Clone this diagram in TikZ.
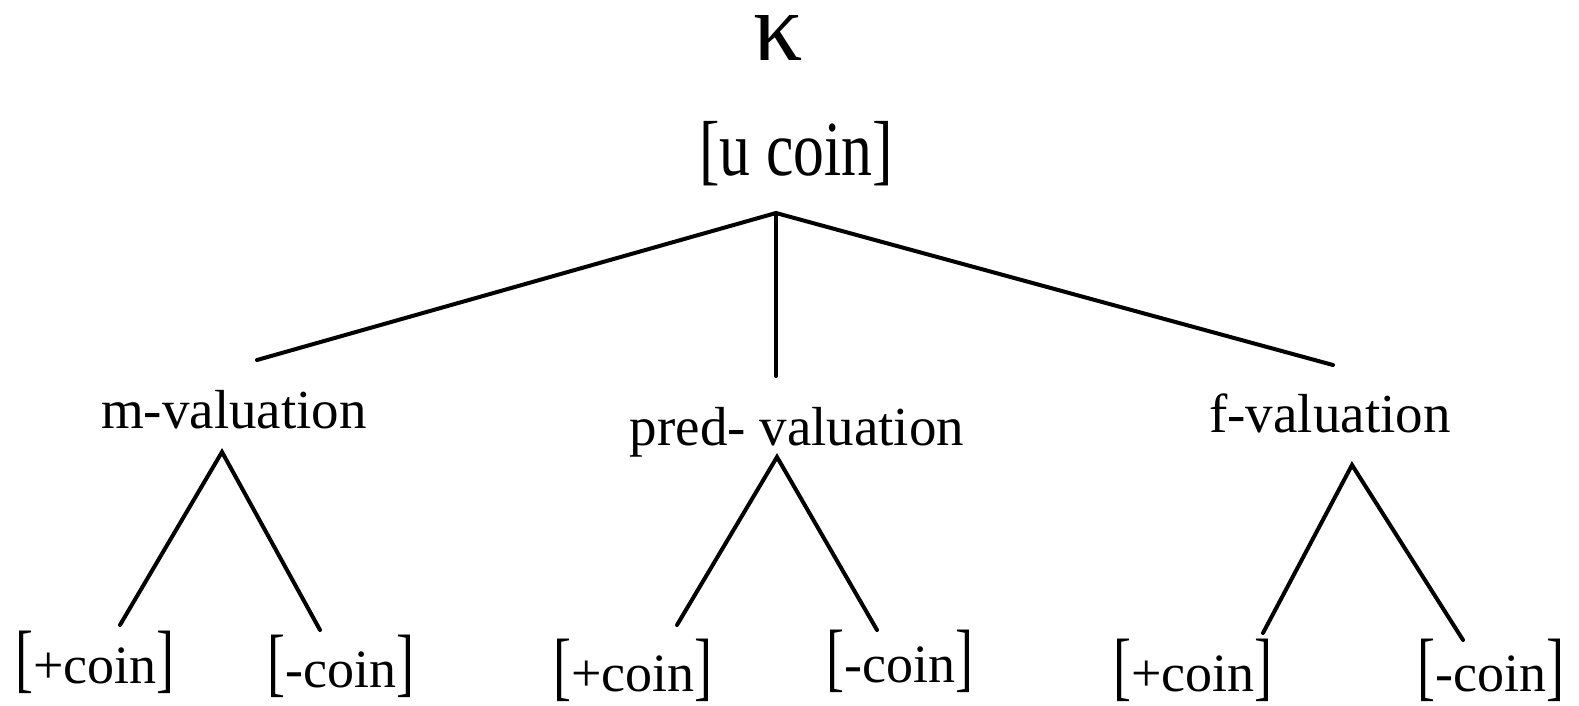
\documentclass[tikz,border=0pt]{standalone}
\usepackage{fontspec}
\setmainfont{Liberation Serif}
\usepackage{graphicx}
\usepackage{tikz}
\usetikzlibrary{positioning}
\newcommand{\tallbr}[1]{\scalebox{1}[1.4]{#1}}

\begin{document}
\begin{tikzpicture}[x=1pt,y=-1pt,
  lbl/.style={anchor=base,inner sep=0pt,font=\fontsize{55}{60}\selectfont},
  leaf/.style={anchor=base,inner sep=0pt,font=\fontsize{54}{60}\selectfont},
  br/.style={line width=4pt,line cap=round}]
  \useasboundingbox (0,0) rectangle (1579,705);
  \node[anchor=base,inner sep=0pt,font=\fontsize{98}{100}\selectfont](kap) at (778,60){κ};
  \node[anchor=base,inner sep=0pt,font=\fontsize{78}{80}\selectfont](root) at (796,175){\scalebox{0.79}[1]{[u coin]}};
  \coordinate (apex) at (776,213);
  % valuations
  \node[lbl](mval) at (234,428){m-valuation};
  \node[lbl](pval) at (797,445){pred- valuation};
  \node[lbl](fval) at (1330,432){f-valuation};
  \coordinate (mup) at (257,360);
  \coordinate (pup) at (776,376);
  \coordinate (fup) at (1333,365);
  \draw[br] (mup) -- (apex) -- (fup);
  \draw[br] (apex) -- (pup);
  % leaves
  \node[leaf](mpos) at (95,683){\tallbr{[}+coin\tallbr{]}};
  \node[leaf](mneg) at (341,687){\tallbr{[}-coin\tallbr{]}};
  \node[leaf](ppos) at (633,691){\tallbr{[}+coin\tallbr{]}};
  \node[leaf](pneg) at (900,682){\tallbr{[}-coin\tallbr{]}};
  \node[leaf](fpos) at (1193,691){\tallbr{[}+coin\tallbr{]}};
  \node[leaf](fneg) at (1491,691){\tallbr{[}-coin\tallbr{]}};
  \coordinate (mdown) at (222,452);
  \coordinate (pdown) at (777,457);
  \coordinate (fdown) at (1352,465);
  \coordinate (ml) at (120,625); \coordinate (mr) at (320,630);
  \coordinate (pl) at (677,625); \coordinate (pr) at (877,630);
  \coordinate (fl) at (1263,633); \coordinate (fr) at (1463,640);
  \draw[br] (ml) -- (mdown) -- (mr);
  \draw[br] (pl) -- (pdown) -- (pr);
  \draw[br] (fl) -- (fdown) -- (fr);
\end{tikzpicture}
\end{document}
